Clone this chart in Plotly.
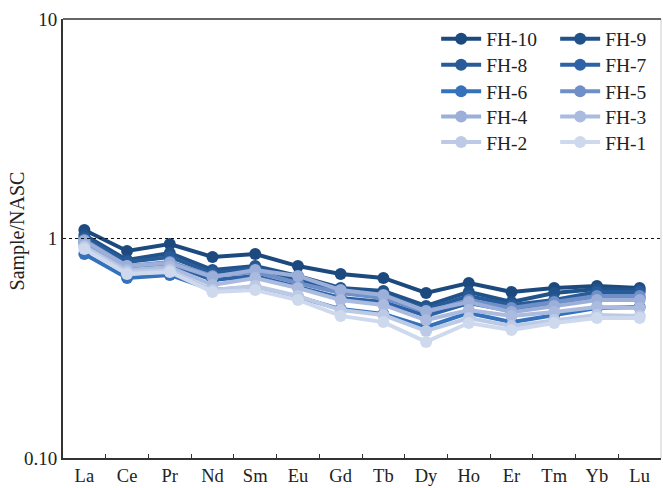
import plotly.graph_objects as go

elements = ["La", "Ce", "Pr", "Nd", "Sm", "Eu", "Gd", "Tb", "Dy", "Ho", "Er", "Tm", "Yb", "Lu"]

fh10 = [1.093, 0.877, 0.944, 0.824, 0.850, 0.749, 0.689, 0.661, 0.565, 0.627, 0.571, 0.595, 0.608, 0.595]
fh9 = [1.037, 0.798, 0.859, 0.719, 0.749, 0.675, 0.595, 0.577, 0.493, 0.571, 0.514, 0.565, 0.589, 0.583]
fh8 = [1.005, 0.782, 0.824, 0.696, 0.734, 0.654, 0.577, 0.553, 0.477, 0.547, 0.498, 0.525, 0.571, 0.571]
fh7 = [0.954, 0.734, 0.765, 0.647, 0.675, 0.601, 0.536, 0.514, 0.444, 0.508, 0.467, 0.503, 0.530, 0.536]
fh6 = [0.850, 0.661, 0.682, 0.583, 0.601, 0.541, 0.477, 0.453, 0.395, 0.458, 0.416, 0.448, 0.482, 0.487]
fh5 = [0.984, 0.749, 0.782, 0.675, 0.704, 0.627, 0.565, 0.536, 0.462, 0.525, 0.482, 0.514, 0.547, 0.547]
fh4 = [0.974, 0.749, 0.773, 0.668, 0.719, 0.675, 0.583, 0.553, 0.467, 0.514, 0.462, 0.493, 0.525, 0.525]
fh3 = [0.924, 0.719, 0.742, 0.614, 0.661, 0.595, 0.525, 0.498, 0.425, 0.472, 0.444, 0.462, 0.487, 0.482]
fh2 = [0.915, 0.704, 0.719, 0.583, 0.608, 0.547, 0.472, 0.448, 0.379, 0.434, 0.399, 0.425, 0.448, 0.444]
fh1 = [0.896, 0.689, 0.704, 0.571, 0.583, 0.525, 0.444, 0.416, 0.338, 0.412, 0.383, 0.412, 0.434, 0.434]

sample_names = ["FH-10", "FH-9", "FH-8", "FH-7", "FH-6", "FH-5", "FH-4", "FH-3", "FH-2", "FH-1"]
sample_values = [fh10, fh9, fh8, fh7, fh6, fh5, fh4, fh3, fh2, fh1]
sample_colors = ["#1d4a7e", "#22528a", "#285c98", "#2d63a6", "#3472bc",
                 "#6f8fc8", "#9cafd9", "#aabbdf", "#bccae6", "#cfd9ee"]

y_tick_vals = [0.1, 1, 10]
y_tick_text = ["0.10", "1", "10"]

FONT = "Times New Roman, Liberation Serif, serif"
TEXT = "#222222"

# legend grid: two columns, five rows (paper coordinates)
legend_cols = [0.624, 0.823]
legend_rows = [0.9544, 0.8952, 0.8344, 0.7774, 0.7191]

fig = go.Figure()
legend_layout = {}
for i, (name, vals, col) in enumerate(zip(sample_names, sample_values, sample_colors)):
    key = "legend" if i == 0 else f"legend{i + 1}"
    fig.add_trace(go.Scatter(
        x=elements, y=vals, name=name, mode="lines+markers",
        line=dict(color=col, width=4),
        marker=dict(color=col, size=12, line=dict(width=0)),
        legend=key,
    ))
    legend_layout[key] = dict(
        x=legend_cols[i % 2], y=legend_rows[i // 2],
        xanchor="left", yanchor="middle", orientation="v",
        itemwidth=40, tracegroupgap=0,
        font=dict(family=FONT, size=19.5, color=TEXT),
        bgcolor="rgba(0,0,0,0)", borderwidth=0,
    )

# reference level at 1
fig.add_shape(type="line", xref="paper", yref="y", x0=0, x1=1, y0=1, y1=1,
              line=dict(color="#111111", width=1, dash="dot"))
# light right frame edge
fig.add_shape(type="line", xref="paper", yref="paper", x0=1, x1=1, y0=0, y1=1,
              line=dict(color="#cccccc", width=1))
# dark top frame edge
fig.add_shape(type="line", xref="paper", yref="paper", x0=0, x1=1, y0=1, y1=1,
              line=dict(color="#333333", width=1.5))

fig.add_annotation(text="Sample/NASC", xref="paper", yref="paper",
                   x=-0.0769, y=0.516, xanchor="center", yanchor="middle",
                   showarrow=False, textangle=-90,
                   font=dict(family=FONT, size=20, color=TEXT))

fig.update_layout(
    width=663, height=488,
    margin=dict(l=63, r=2, t=19, b=30, autoexpand=False),
    paper_bgcolor="white", plot_bgcolor="white",
    font=dict(family=FONT, color=TEXT),
    showlegend=True,
    xaxis=dict(
        type="category", range=[-0.5, 13.5], automargin=False,
        showline=True, linecolor="#333333", linewidth=1.5, mirror=False,
        ticks="inside", tickson="boundaries", ticklen=4, tickcolor="#333333",
        showgrid=False, zeroline=False,
        tickfont=dict(family=FONT, size=18.5, color=TEXT),
    ),
    yaxis=dict(
        type="log", range=[-1, 1], automargin=False,
        tickvals=y_tick_vals, ticktext=y_tick_text,
        showline=True, linecolor="#333333", linewidth=2,
        ticks="", showgrid=False, zeroline=False,
        tickfont=dict(family=FONT, size=19, color=TEXT),
    ),
    **legend_layout,
)

fig.write_html("out.html")
